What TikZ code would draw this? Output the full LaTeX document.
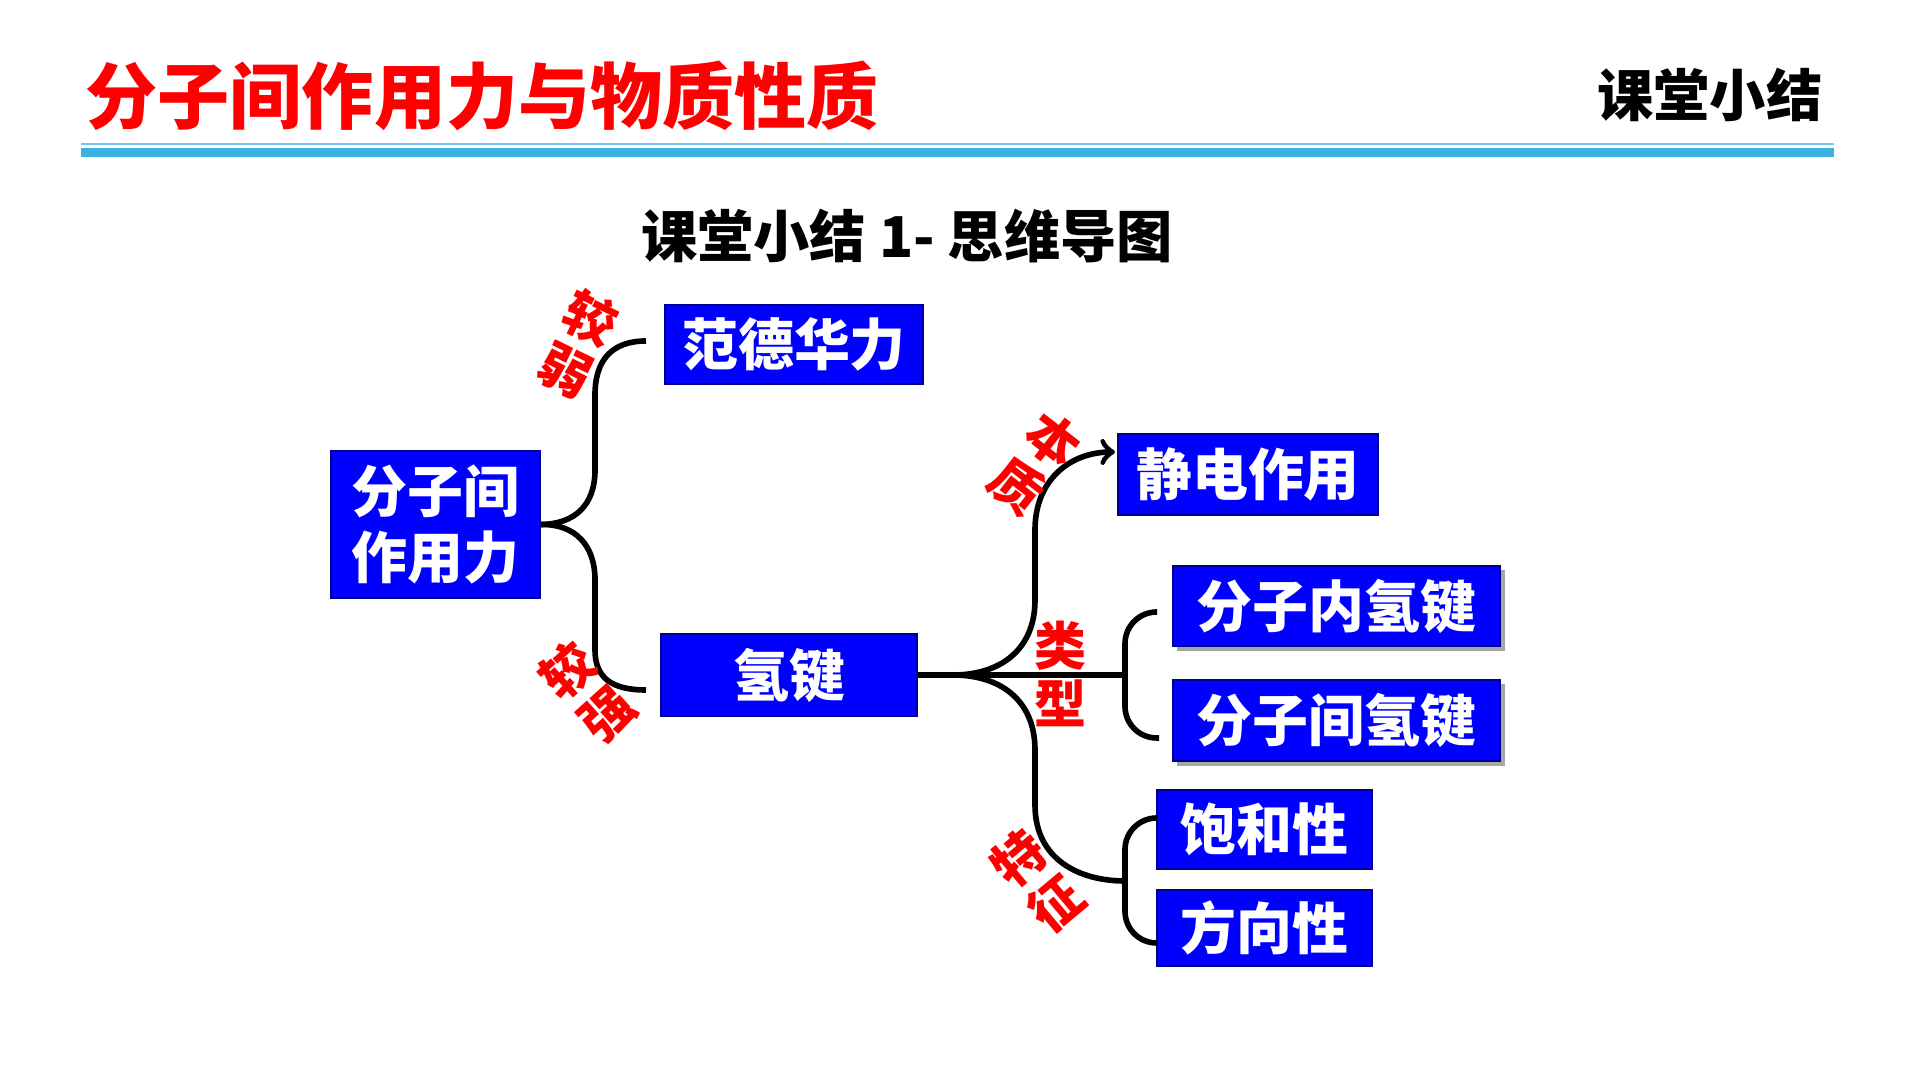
\documentclass[tikz,border=0pt]{standalone}
\usepackage{fontspec}
\setmainfont{Noto Sans CJK SC}
\newfontfamily\heavyfont{Noto Sans CJK SC Black}
\usetikzlibrary{arrows,shadows,positioning}
\definecolor{mblue}{HTML}{0000FF}
\definecolor{mred}{HTML}{FF0000}
\definecolor{mline}{HTML}{3BB0E3}
\tikzstyle{box}=[rectangle, draw=blue!55!black, line width=0.6pt, fill=mblue, text=white, inner sep=0pt, align=center, font=\bfseries\fontsize{15.9pt}{19pt}\selectfont]
\tikzstyle{sbox}=[box, drop shadow={shadow xshift=0.045cm, shadow yshift=-0.045cm, fill=black!35, opacity=1}]
\tikzstyle{lbl}=[text=mred, inner sep=0pt, align=center, font=\bfseries\fontsize{14.8pt}{16.6pt}\selectfont]
\tikzstyle{l1}=[line width=1.6pt]

\begin{document}
\begin{tikzpicture}[x=0.01cm, y=-0.01cm]
    \useasboundingbox (0,0) rectangle (1920,1080);

    % header
    \node[anchor=west, inner sep=0pt, text=mred, font=\heavyfont\fontsize{20.5pt}{24pt}\selectfont] at (85,96) (title) {分子间作用力与物质性质};
    \node[anchor=east, inner sep=0pt, font=\bfseries\fontsize{16pt}{19pt}\selectfont] at (1823,95) (tag) {课堂小结};
    \fill[mline!70] (81,143.5) rectangle (1834,145.5);
    \fill[mline] (81,148) rectangle (1834,157);
    \node[inner sep=0pt, font=\bfseries\fontsize{16pt}{19pt}\selectfont] at (907,236) (sub) {课堂小结 1- 思维导图};

    % boxes
    \node[box, minimum width=2.09cm, minimum height=1.47cm] at (435.5,524.5) (gen) {分子间\\作用力};
    \node[box, minimum width=2.58cm, minimum height=0.79cm] at (794,344.5) (vdw) {范德华力};
    \node[box, minimum width=2.56cm, minimum height=0.82cm] at (789,675) (hb) {氢键};
    \node[box, minimum width=2.60cm, minimum height=0.81cm] at (1248,474.5) (es) {静电作用};
    \node[sbox, minimum width=3.27cm, minimum height=0.80cm] at (1336.5,606) (intra) {分子内氢键};
    \node[sbox, minimum width=3.27cm, minimum height=0.81cm] at (1336.5,720.5) (inter) {分子间氢键};
    \node[box, minimum width=2.15cm, minimum height=0.79cm] at (1264.5,829.5) (sat) {饱和性};
    \node[box, minimum width=2.15cm, minimum height=0.76cm] at (1264.5,928) (dir) {方向性};

    % free ends
    \coordinate (w1) at (646,341);
    \coordinate (w2) at (646,690);
    \coordinate (sp) at (953,675);
    \coordinate (hj) at (1125,675);
    \coordinate (fj) at (1125,881);
    \coordinate (ea) at (1115,452);
    \coordinate (t1) at (1157,612);
    \coordinate (t2) at (1159,738);
    \coordinate (f1) at (1157,818);
    \coordinate (f2) at (1157,943);

    \draw[l1] (gen.east) .. controls (575,524) and (595,505) .. (595,470) -- (595,395) .. controls (595,360) and (612,341) .. (w1);
    \draw[l1] (gen.east) .. controls (575,524) and (595,545) .. (595,580) -- (595,650) .. controls (595,678) and (612,690) .. (w2);

    \draw[l1] (hb.east) -- (hj);
    \draw[l1, ->] (sp) .. controls (1000,675) and (1035,650) .. (1035,600) -- (1035,530) .. controls (1035,480) and (1070,452) .. (ea);
    \draw[l1] (sp) .. controls (1000,675) and (1035,700) .. (1035,750) -- (1035,805) .. controls (1035,860) and (1080,881) .. (fj);
    \draw[l1, rounded corners=9] (t1) -| (hj) |- (t2);
    \draw[l1, rounded corners=9] (f1) -| (fj) |- (f2);

    % labels
    \node[lbl, rotate=-26] at (578,344) (weak) {较\\弱};
    \node[lbl, rotate=42] at (587,692) (strong) {较\\强};
    \node[lbl, rotate=-38] at (1035,463) (nat) {本\\质};
    \node[lbl] at (1061,674) (kind) {类\\型};
    \node[lbl, rotate=40] at (1037,881) (feat) {特\\征};
\end{tikzpicture}
\end{document}
